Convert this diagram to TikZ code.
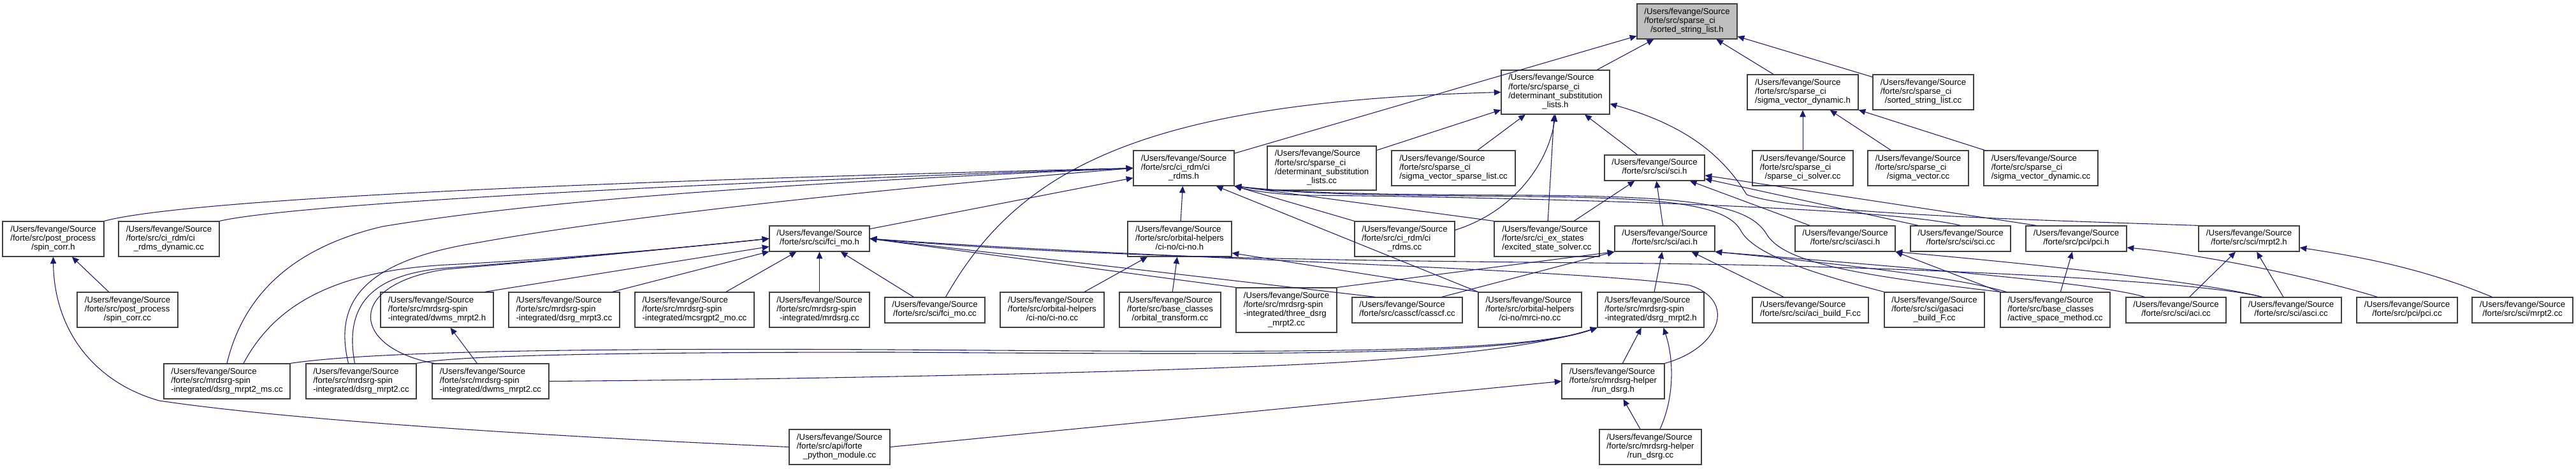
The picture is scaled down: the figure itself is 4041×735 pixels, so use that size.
\documentclass[tikz,border=0pt]{standalone}
\usepackage{fontspec}
\setmainfont{Liberation Sans}
\usetikzlibrary{arrows.meta,calc}
\definecolor{edgec}{HTML}{191970}
\definecolor{nodeb}{HTML}{404040}
\definecolor{grayf}{HTML}{BFBFBF}
\newcommand\UFS{/Users/fevange/Source}
\newcommand\lbl[2]{\begin{tabular}{@{}l@{}}#1\\\multicolumn{1}{@{}c@{}}{#2}\end{tabular}}
\newcommand\N[8][]{\node[nbox,#1,minimum width={#5*0.75pt},minimum height={#6*0.75pt}] (#2) at (#3,#4) {\lbl{#7}{#8}};}
\tikzset{
  nbox/.style={draw=nodeb,line width=0.9pt,fill=white,inner sep=0pt,font=\fontsize{9.9pt}{10.7pt}\selectfont},
  edg/.style={draw=edgec,line width=0.8pt,-{Triangle[length=8pt,width=7pt]}}
}
\begin{document}
\begin{tikzpicture}[x=0.75pt,y=-0.75pt]
\fill[white] (0,0) rectangle (4041,735);
\useasboundingbox (0,0) rectangle (4041,735);
% nodes
\N[fill=grayf]{sslh}{2646.5}{33.5}{157}{55}{\UFS\\/forte/src/sparse\_ci}{/sorted\_string\_list.h}
\N{dslh}{2440}{144.5}{170}{69}{\UFS\\/forte/src/sparse\_ci\\/determinant\_substitution}{\_lists.h}
\N{svdh}{2828}{144.5}{174}{55}{\UFS\\/forte/src/sparse\_ci}{/sigma\_vector\_dynamic.h}
\N{sslcc}{3017}{144.5}{158}{55}{\UFS\\/forte/src/sparse\_ci}{/sorted\_string\_list.cc}
\N{crh}{1857}{263.5}{158}{55}{\UFS\\/forte/src/ci\_rdm/ci}{\_rdms.h}
\N{dslcc}{2073.5}{263.5}{171}{69}{\UFS\\/forte/src/sparse\_ci\\/determinant\_substitution}{\_lists.cc}
\N{svslcc}{2280}{263.5}{194}{55}{\UFS\\/forte/src/sparse\_ci}{/sigma\_vector\_sparse\_list.cc}
\N{scih}{2595.5}{263}{157}{40}{\UFS}{/forte/src/sci/sci.h}
\N{solvcc}{2828}{263.5}{158}{55}{\UFS\\/forte/src/sparse\_ci}{/sparse\_ci\_solver.cc}
\N{svcc}{3009}{263.5}{158}{55}{\UFS\\/forte/src/sparse\_ci}{/sigma\_vector.cc}
\N{svdcc}{3201.5}{263.5}{179}{55}{\UFS\\/forte/src/sparse\_ci}{/sigma\_vector\_dynamic.cc}
\N{spinh}{83.5}{374.5}{159}{55}{\UFS\\/forte/src/post\_process}{/spin\_corr.h}
\N{crdyn}{265}{374.5}{158}{55}{\UFS\\/forte/src/ci\_rdm/ci}{\_rdms\_dynamic.cc}
\N{fcih}{1285.5}{374}{157}{40}{\UFS}{/forte/src/sci/fci\_mo.h}
\N{cinoh}{1850.5}{374.5}{163}{55}{\UFS\\/forte/src/orbital-helpers}{/ci-no/ci-no.h}
\N{crcc}{2203.5}{374.5}{157}{55}{\UFS\\/forte/src/ci\_rdm/ci}{\_rdms.cc}
\N{esscc}{2426.5}{374.5}{165}{55}{\UFS\\/forte/src/ci\_ex\_states}{/excited\_state\_solver.cc}
\N{acih}{2611.5}{374}{157}{40}{\UFS}{/forte/src/sci/aci.h}
\N{ascih}{2894.5}{374}{157}{40}{\UFS}{/forte/src/sci/asci.h}
\N{scicc}{3075.5}{374}{157}{40}{\UFS}{/forte/src/sci/sci.cc}
\N{pcih}{3257}{374}{158}{40}{\UFS}{/forte/src/pci/pci.h}
\N{mrpttwoh}{3528}{374}{158}{40}{\UFS}{/forte/src/sci/mrpt2.h}
\N{spincc}{200}{485.5}{158}{55}{\UFS\\/forte/src/post\_process}{/spin\_corr.cc}
\N{dwmsh}{685.5}{485.5}{177}{55}{\UFS\\/forte/src/mrdsrg-spin}{-integrated/dwms\_mrpt2.h}
\N{mrptthreecc}{885}{485.5}{174}{55}{\UFS\\/forte/src/mrdsrg-spin}{-integrated/dsrg\_mrpt3.cc}
\N{mcsrgcc}{1089.5}{485.5}{187}{55}{\UFS\\/forte/src/mrdsrg-spin}{-integrated/mcsrgpt2\_mo.cc}
\N{mrdsrgcc}{1285.5}{485.5}{157}{55}{\UFS\\/forte/src/mrdsrg-spin}{-integrated/mrdsrg.cc}
\N{fcicc}{1466.5}{486}{157}{40}{\UFS}{/forte/src/sci/fci\_mo.cc}
\N{cinocc}{1650.5}{485.5}{163}{55}{\UFS\\/forte/src/orbital-helpers}{/ci-no/ci-no.cc}
\N{orbcc}{1835.5}{485.5}{159}{55}{\UFS\\/forte/src/base\_classes}{/orbital\_transform.cc}
\N{threecc}{2018}{486}{158}{70}{\UFS\\/forte/src/mrdsrg-spin\\-integrated/three\_dsrg}{\_mrpt2.cc}
\N{casscc}{2207.5}{486}{173}{40}{\UFS}{/forte/src/casscf/casscf.cc}
\N{mrcinocc}{2400}{485.5}{162}{55}{\UFS\\/forte/src/orbital-helpers}{/ci-no/mrci-no.cc}
\N{dsrgh}{2589.5}{485.5}{167}{55}{\UFS\\/forte/src/mrdsrg-spin}{-integrated/dsrg\_mrpt2.h}
\N{acibcc}{2840}{486}{182}{40}{\UFS}{/forte/src/sci/aci\_build\_F.cc}
\N{gascc}{3034.5}{485.5}{157}{55}{\UFS\\/forte/src/sci/gasaci}{\_build\_F.cc}
\N{asmcc}{3224}{485.5}{172}{55}{\UFS\\/forte/src/base\_classes}{/active\_space\_method.cc}
\N{acicc}{3413.5}{486}{157}{40}{\UFS}{/forte/src/sci/aci.cc}
\N{ascicc}{3594}{486}{158}{40}{\UFS}{/forte/src/sci/asci.cc}
\N{pcicc}{3776}{486}{158}{40}{\UFS}{/forte/src/pci/pci.cc}
\N{mrpttwocc}{3957}{486}{158}{40}{\UFS}{/forte/src/sci/mrpt2.cc}
\N{mscc}{356}{597.5}{198}{55}{\UFS\\/forte/src/mrdsrg-spin}{-integrated/dsrg\_mrpt2\_ms.cc}
\N{dsrgcc}{566.5}{597.5}{173}{55}{\UFS\\/forte/src/mrdsrg-spin}{-integrated/dsrg\_mrpt2.cc}
\N{dwmscc}{769.5}{597.5}{183}{55}{\UFS\\/forte/src/mrdsrg-spin}{-integrated/dwms\_mrpt2.cc}
\N{runh}{2530.5}{597.5}{161}{55}{\UFS\\/forte/src/mrdsrg-helper}{/run\_dsrg.h}
\N{pymodcc}{1317}{700.5}{158}{55}{\UFS\\/forte/src/api/forte}{\_python\_module.cc}
\N{runcc}{2589}{700.5}{160}{55}{\UFS\\/forte/src/mrdsrg-helper}{/run\_dsrg.cc}
% edges to sorted_string_list.h
\draw[edg] (dslh) -- (sslh);
\draw[edg] (crh) -- (sslh);
\draw[edg] (svdh) -- (sslh);
\draw[edg] (sslcc) -- (sslh);
% to determinant_substitution_lists.h
\draw[edg] ($(fcicc.north)+(17,0)$) .. controls (1600,260) and (1800,160) .. (dslh.west);
\draw[edg] (dslcc) -- (dslh);
\draw[edg] (svslcc) -- (dslh);
\draw[edg] (crcc.10) .. controls (2380,330) and (2430,250) .. (dslh.south);
\draw[edg] (esscc) -- (dslh);
\draw[edg] (scih) -- (dslh);
\draw[edg] (mrpttwoh.north west) .. controls (3200,345) and (2820,335) .. (2740,305) .. controls (2700,240) and (2640,195) .. (dslh.-12);
% to sigma_vector_dynamic.h
\draw[edg] (solvcc) -- (svdh);
\draw[edg] (svcc) -- (svdh);
\draw[edg] (svdcc) -- (svdh);
% to ci_rdms.h
\draw[edg] (spinh.north east) .. controls (300,310) and (1000,282) .. (crh.west);
\draw[edg] (crdyn.north east) .. controls (450,322) and (1000,290) .. (crh.west);
\draw[edg] (mscc.north) .. controls (380,470) and (450,390) .. (600,355) .. controls (900,305) and (1400,280) .. (crh.west);
\draw[edg] ($(dsrgcc.north)+(-20,0)$) .. controls (525,480) and (560,410) .. (751,380) .. controls (1000,335) and (1450,290) .. (crh.west);
\draw[edg] (fcih) -- (crh);
\draw[edg] (cinoh) -- (crh);
\draw[edg] (mrcinocc.north west) -- (crh.-29);
\draw[edg] (crcc.north west) -- (crh.south east);
\draw[edg] (esscc.north west) -- (crh.south east);
\draw[edg] (scicc.north) .. controls (2950,322) and (2300,308) .. (2050,306) .. controls (2000,305) and (1960,298) .. (crh.south east);
\draw[edg] (gascc.north west) .. controls (2850,430) and (2750,400) .. (2730,360) .. controls (2705,318) and (2600,310) .. (2400,308) .. controls (2200,306) and (2050,306) .. (crh.south east);
\draw[edg] (asmcc.north west) .. controls (2900,430) and (2795,410) .. (2770,365) .. controls (2740,318) and (2640,308) .. (2400,306) .. controls (2200,305) and (2050,304) .. (crh.south east);
% to fci_mo.h
\draw[edg] ($(mscc.north)+(26,0)$) .. controls (430,480) and (520,425) .. (700,415) .. controls (900,405) and (1100,385) .. (fcih.west);
\draw[edg] ($(dsrgcc.north)+(-10,0)$) .. controls (540,480) and (580,430) .. (700,420) .. controls (900,405) and (1100,385) .. (fcih.west);
\draw[edg] ($(dwmscc.north west)+(4,0)$) .. controls (550,545) and (540,445) .. (700,422) .. controls (900,405) and (1100,385) .. (fcih.west);
\draw[edg] ($(dwmsh.north east)+(-14,0)$) -- (fcih);
\draw[edg] ($(mrptthreecc.north east)+(-12,0)$) -- (fcih);
\draw[edg] (mcsrgcc) -- (fcih);
\draw[edg] (mrdsrgcc) -- (fcih);
\draw[edg] (fcicc) -- (fcih);
\draw[edg] (threecc.north west) -- (fcih.east);
\draw[edg] ($(casscc.north west)+(37,0)$) -- (fcih.east);
\draw[edg] (runh.north east) .. controls (2700,545) and (2725,470) .. (2650,447) .. controls (2450,420) and (1800,405) .. (fcih.east);
\draw[edg] ($(ascicc.north west)+(34,0)$) .. controls (3450,440) and (3000,418) .. (2600,413) .. controls (2200,409) and (1750,407) .. (fcih.east);
% to ci-no.h
\draw[edg] (cinocc) -- (cinoh);
\draw[edg] (orbcc) -- (cinoh);
\draw[edg] (mrcinocc.north west) -- (cinoh.-15);
% to dsrg_mrpt2.h
\draw[edg] (mscc.north east) .. controls (600,548) and (1000,546) .. (1400,548) .. controls (2000,552) and (2380,556) .. (dsrgh.south west);
\draw[edg] (dsrgcc.north east) .. controls (720,556) and (1000,552) .. (1400,552) .. controls (2000,556) and (2380,558) .. (dsrgh.south west);
\draw[edg] (dwmscc.east) .. controls (1200,595) and (1800,585) .. (2100,568) .. controls (2300,556) and (2420,540) .. (dsrgh.south west);
\draw[edg] (runh) -- (dsrgh);
\draw[edg] ($(runcc.north)+(15,0)$) .. controls (2628,620) and (2625,560) .. ($(dsrgh.south)+(20,0)$);
% to aci.h
\draw[edg] (dsrgh) -- (acih);
\draw[edg] (acibcc) -- (acih);
\draw[edg] (threecc.north east) -- (acih.south west);
\draw[edg] ($(casscc.north east)+(-33,0)$) -- (acih.south west);
\draw[edg] ($(acicc.north west)+(30,0)$) .. controls (3280,440) and (2900,412) .. (acih.south east);
\draw[edg] ($(asmcc.north west)+(10,0)$) .. controls (3060,432) and (2850,410) .. (acih.south east);
% to asci.h
\draw[edg] (asmcc.north west) -- (ascih.south east);
\draw[edg] ($(ascicc.north west)+(34,0)$) .. controls (3450,440) and (3150,410) .. (ascih.south east);
% to sci.h
\draw[edg] (esscc) -- (scih);
\draw[edg] (acih) -- (scih);
\draw[edg] (ascih) -- (scih);
\draw[edg] ($(scicc.north west)+(13,0)$) -- (scih);
\draw[edg] ($(pcih.north west)+(17,0)$) -- (scih);
% to pci.h
\draw[edg] (asmcc) -- (pcih);
\draw[edg] ($(pcicc.north west)+(33,0)$) .. controls (3620,432) and (3450,398) .. (pcih.-10);
% to mrpt2.h
\draw[edg] (acicc) -- (mrpttwoh);
\draw[edg] (ascicc) -- (mrpttwoh);
\draw[edg] ($(mrpttwocc.north west)+(32,0)$) .. controls (3800,420) and (3700,402) .. (mrpttwoh.-10);
% others
\draw[edg] (spincc) -- (spinh);
\draw[edg] (dwmscc) -- (dwmsh);
\draw[edg] (runcc) -- (runh);
\draw[edg] (pymodcc.east) -- (runh.west);
\draw[edg] (pymodcc.west) .. controls (1000,690) and (500,665) .. (250,628) .. controls (150,600) and (85,520) .. (spinh.south);
\end{tikzpicture}
\end{document}
